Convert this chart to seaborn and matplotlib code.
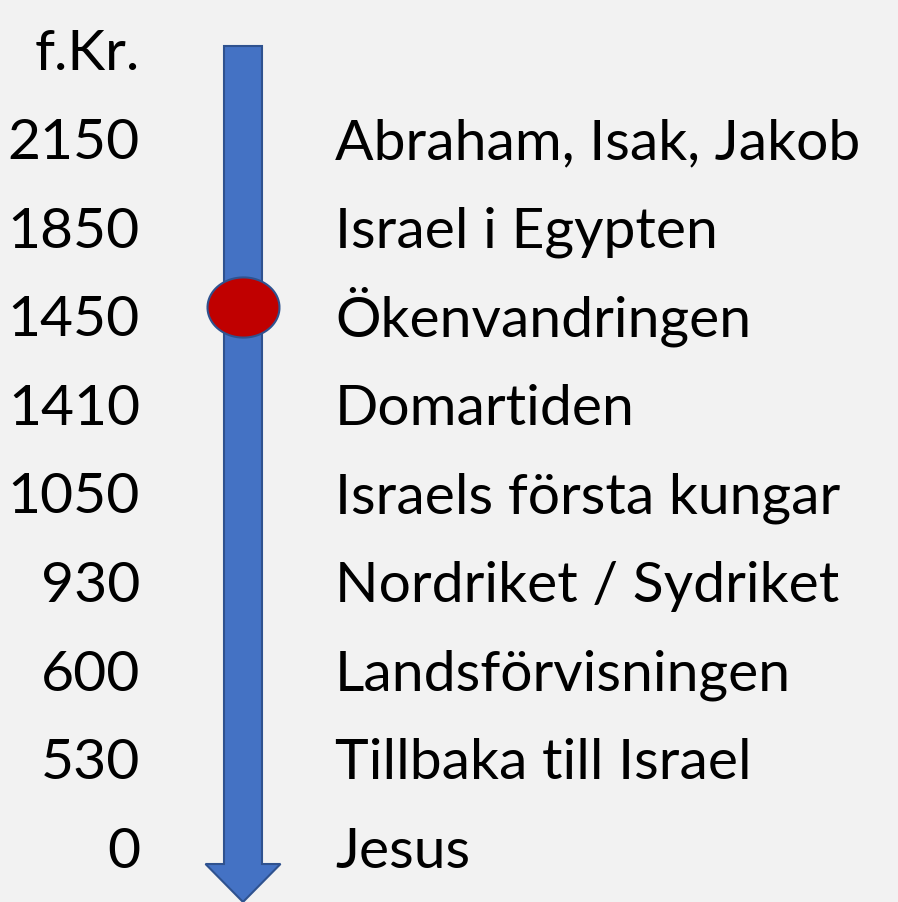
import matplotlib.pyplot as plt
from matplotlib.path import Path
from matplotlib.patches import Polygon
import seaborn as sns
import numpy as np
import pandas as pd

BG_COLOR = '#f2f2f2'
ARROW_COLOR = '#4472c4'
EDGE_COLOR = '#2f528f'
DOT_COLOR = '#c00000'

header = 'f.Kr.'
years = ['2150', '1850', '1450', '1410', '1050', '930', '600', '530', '0']
events = ['Abraham, Isak, Jakob', 'Israel i Egypten', 'Ökenvandringen', 'Domartiden',
          'Israels första kungar', 'Nordriket / Sydriket', 'Landsförvisningen',
          'Tillbaka till Israel', 'Jesus']
current = ['1450']

df = pd.DataFrame({'year': years, 'event': events})
df['row'] = np.arange(1, len(df) + 1)
df['x'] = 0.0

sns.set_theme(style='white', rc={'figure.facecolor': BG_COLOR, 'axes.facecolor': BG_COLOR})
plt.rcParams['font.family'] = ['Lato', 'DejaVu Sans']

W, H = 898, 903
ROW_PX = 88.6
BASE0 = 70.4
ARROW_X = 243

fig = plt.figure(figsize=(W / 100, H / 100), dpi=100)
ax = fig.add_axes([0, 0, 1, 1])
# x in pixels relative to arrow centre, y in rows (baseline of row i at y=i)
ax.set_xlim(-ARROW_X, W - ARROW_X)
ax.set_ylim((H - BASE0) / ROW_PX, -BASE0 / ROW_PX)
ax.axis('off')

# arrow
top = (47 - BASE0) / ROW_PX
head = (865 - BASE0) / ROW_PX
tip = (H - BASE0) / ROW_PX
sw, hw = 19, 37.5
pts = [(-sw, top), (sw, top), (sw, head), (hw, head), (0, tip),
       (-hw, head), (-sw, head)]
ax.add_patch(Polygon(pts, closed=True, facecolor=ARROW_COLOR, edgecolor=EDGE_COLOR,
                     linewidth=1.5, zorder=1))

# current-era marker (ellipse), centred on the text line
t = np.linspace(0, 2 * np.pi, 80)
ell = Path(np.column_stack([np.cos(t), np.sin(t) * 61 / 73]))
hl = df[df['year'].isin(current)].copy()
hl['y'] = hl['row'] - 0.32
sns.scatterplot(data=hl, x='x', y='y', marker=ell, s=(72 * 0.72) ** 2,
                color=DOT_COLOR, edgecolor=EDGE_COLOR, linewidth=1.5, ax=ax,
                legend=False, zorder=3)

FS = 41
ax.text(140 - ARROW_X, 0, header, ha='right', va='baseline', fontsize=FS, color='black')
for _, r in df.iterrows():
    ax.text(140 - ARROW_X, r['row'], r['year'], ha='right', va='baseline',
            fontsize=FS, color='black')
    ax.text(335 - ARROW_X, r['row'], r['event'], ha='left', va='baseline',
            fontsize=FS, color='black')

fig.savefig('out.png', dpi=100, facecolor=BG_COLOR)
